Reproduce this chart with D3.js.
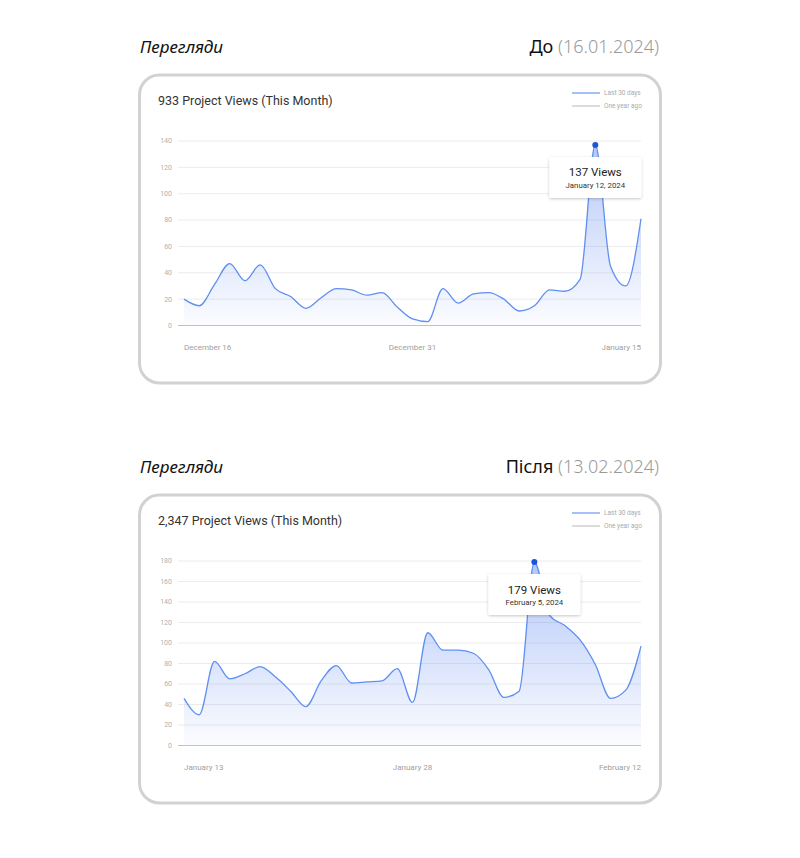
<!DOCTYPE html>
<meta charset="utf-8">
<script src="https://d3js.org/d3.v7.min.js"></script>
<style>
  body { margin: 0; background: #fff; }
</style>
<div id="my_dataviz"></div>

<script>

    // ---- data ----
    const beforeDates = ["December 16","December 17","December 18","December 19","December 20","December 21","December 22","December 23","December 24","December 25","December 26","December 27","December 28","December 29","December 30","December 31","January 1","January 2","January 3","January 4","January 5","January 6","January 7","January 8","January 9","January 10","January 11","January 12","January 13","January 14","January 15"]
    const beforeViews = [20,15,31,47,34,46,28,22,13,21,28,27,23,25,14,5,3,28,17,24,25,20,11,15,27,26,35,137,45,30,81]
    const beforeTicks = [0,20,40,60,80,100,120,140]
    const beforeXLabels = ["December 16","December 31","January 15"]

    const afterDates = ["January 13","January 14","January 15","January 16","January 17","January 18","January 19","January 20","January 21","January 22","January 23","January 24","January 25","January 26","January 27","January 28","January 29","January 30","January 31","February 1","February 2","February 3","February 4","February 5","February 6","February 7","February 8","February 9","February 10","February 11","February 12"]
    const afterViews = [46,30,82,65,70,77,67,53,38,63,78,61,62,63,75,42,110,93,93,90,74,47,53,179,127,117,103,79,46,54,97]
    const afterTicks = [0,20,40,60,80,100,120,140,160,180]
    const afterXLabels = ["January 13","January 28","February 12"]

    const panels = [
      {top: 0, heading: "Перегляди", state: "До", stamp: "(16.01.2024)", title: "933 Project Views (This Month)",
       dates: beforeDates, views: beforeViews, ticks: beforeTicks, xLabels: beforeXLabels, peakDate: "January 12, 2024"},
      {top: 420, heading: "Перегляди", state: "Після", stamp: "(13.02.2024)", title: "2,347 Project Views (This Month)",
       dates: afterDates, views: afterViews, ticks: afterTicks, xLabels: afterXLabels, peakDate: "February 5, 2024"}
    ]

    const svg = d3.select("#my_dataviz")
      .append("svg")
        .attr("width", 800)
        .attr("height", 858)

    const defs = svg.append("defs")
    const shadow = defs.append("filter").attr("id", "tipShadow")
        .attr("x", "-20%").attr("y", "-20%").attr("width", "140%").attr("height", "160%")
    shadow.append("feDropShadow")
        .attr("dx", 0).attr("dy", 1).attr("stdDeviation", 1.5)
        .attr("flood-color", "#000").attr("flood-opacity", 0.22)

    panels.forEach(function(p, idx) {
      const g = svg.append("g").attr("transform", `translate(0,${p.top})`)

      // heading row
      g.append("text")
        .attr("x", 140).attr("y", 53)
        .style("font-family", "'Noto Sans'").style("font-style", "italic")
        .style("font-size", "17px").attr("fill", "#111")
        .text(p.heading)
      const st = g.append("text")
        .attr("x", 659).attr("y", 53).attr("text-anchor", "end")
        .style("font-family", "'Noto Sans'").style("font-size", "18px")
      st.append("tspan").attr("fill", "#111").style("font-weight", 400).text(p.state + " ")
      st.append("tspan").attr("fill", "#9a9a9a").style("font-weight", 300).text(p.stamp)

      // card
      g.append("rect")
        .attr("x", 139.5).attr("y", 75).attr("width", 521).attr("height", 308)
        .attr("rx", 20)
        .attr("fill", "#fff").attr("stroke", "#d2d2d2").attr("stroke-width", 3)

      g.append("text")
        .attr("x", 158).attr("y", 105)
        .style("font-family", "Roboto").style("font-size", "12.5px")
        .attr("fill", "#333")
        .text(p.title)

      // legend
      const legend = [{name: "Last 30 days", color: "#6b95f2"}, {name: "One year ago", color: "#c4c4c4"}]
      legend.forEach(function(l, i) {
        g.append("line")
          .attr("x1", 572).attr("x2", 600).attr("y1", 93 + i * 13).attr("y2", 93 + i * 13)
          .attr("stroke", l.color).attr("stroke-width", 1.2)
        g.append("text")
          .attr("x", 604).attr("y", 95.3 + i * 13)
          .style("font-family", "Roboto").style("font-size", "6.5px")
          .attr("fill", "#aaa")
          .text(l.name)
      })

      // scales
      const x = d3.scalePoint()
        .domain(p.dates)
        .range([184, 641])
      const y = d3.scaleLinear()
        .domain([0, d3.max(p.ticks)])
        .range([325.5, 141])

      // grid + y labels
      g.selectAll(".grid")
        .data(p.ticks.filter(t => t > 0))
        .join("line")
          .attr("x1", 178).attr("x2", 641)
          .attr("y1", d => y(d)).attr("y2", d => y(d))
          .attr("stroke", "#ececec").attr("stroke-width", 1)
      g.selectAll(".ylab")
        .data(p.ticks)
        .join("text")
          .attr("x", 172).attr("y", d => y(d) + 2.4)
          .attr("text-anchor", "end")
          .style("font-family", "Roboto").style("font-size", "7px")
          .attr("fill", "#b0b0b0")
          .text(d => d)

      // gradient area
      const gid = "areaGrad" + idx
      const grad = defs.append("linearGradient").attr("id", gid)
        .attr("gradientUnits", "userSpaceOnUse")
        .attr("x1", 0).attr("x2", 0).attr("y1", y(d3.max(p.ticks))).attr("y2", y(0))
      grad.append("stop").attr("offset", "0%").attr("stop-color", "#4a78ee").attr("stop-opacity", 0.42)
      grad.append("stop").attr("offset", "100%").attr("stop-color", "#4a78ee").attr("stop-opacity", 0.02)

      const rows = p.dates.map((d, i) => ({date: d, value: p.views[i]}))

      g.append("path")
        .datum(rows)
        .attr("fill", `url(#${gid})`)
        .attr("d", d3.area()
          .curve(d3.curveMonotoneX)
          .x(d => x(d.date))
          .y0(y(0))
          .y1(d => y(d.value)))

      // baseline
      g.append("line")
        .attr("x1", 178).attr("x2", 641).attr("y1", y(0)).attr("y2", y(0))
        .attr("stroke", "#c2c2c2").attr("stroke-width", 1.2)

      g.append("path")
        .datum(rows)
        .attr("fill", "none")
        .attr("stroke", "#5f8ff0")
        .attr("stroke-width", 1.3)
        .attr("d", d3.line()
          .curve(d3.curveMonotoneX)
          .x(d => x(d.date))
          .y(d => y(d.value)))

      // x labels
      p.xLabels.forEach(function(lab, i) {
        g.append("text")
          .attr("x", x(lab)).attr("y", 349.8)
          .attr("text-anchor", i === 0 ? "start" : (i === p.xLabels.length - 1 ? "end" : "middle"))
          .style("font-family", "Roboto").style("font-size", "8px")
          .attr("fill", "#a0a0a0")
          .text(lab)
      })

      // peak marker + tooltip
      const peak = rows[d3.maxIndex(rows, d => d.value)]
      const px = x(peak.date), py = y(peak.value)
      g.append("circle")
        .attr("cx", px).attr("cy", py).attr("r", 3)
        .attr("fill", "#1d55d8")

      const tip = g.append("g").attr("transform", `translate(${px - 46},${py + 12})`)
      tip.append("rect")
        .attr("width", 92).attr("height", 41).attr("rx", 2)
        .attr("fill", "#fff").attr("filter", "url(#tipShadow)")
      tip.append("text")
        .attr("x", 46).attr("y", 19.5).attr("text-anchor", "middle")
        .style("font-family", "Roboto").style("font-size", "11.5px")
        .attr("fill", "#222")
        .text(peak.value + " Views")
      tip.append("text")
        .attr("x", 46).attr("y", 31).attr("text-anchor", "middle")
        .style("font-family", "Roboto").style("font-size", "7.8px")
        .attr("fill", "#333")
        .text(p.peakDate)
    })

</script>
